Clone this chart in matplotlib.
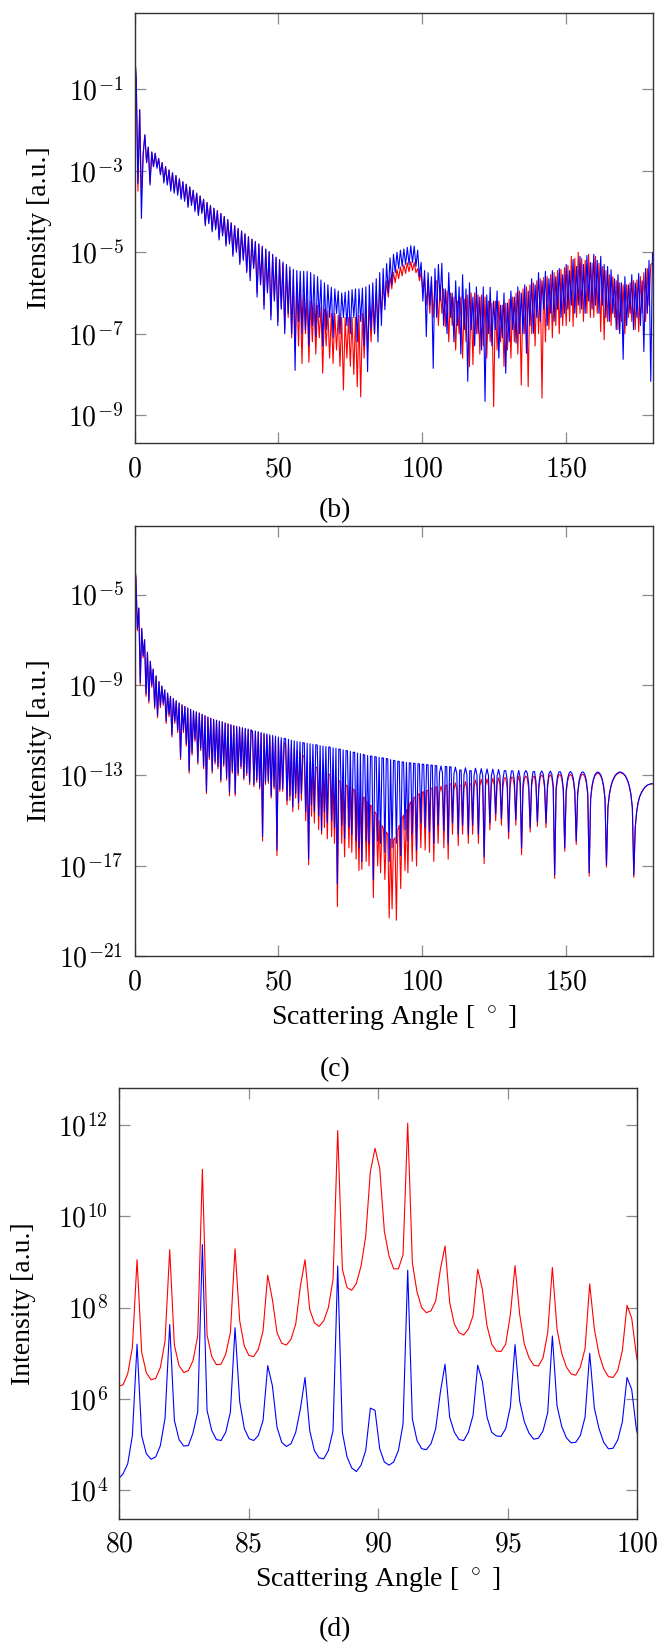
import numpy as np
import matplotlib
matplotlib.use("Agg")
import matplotlib.pyplot as plt
from matplotlib.ticker import NullLocator

plt.rcParams["mathtext.fontset"] = "cm"
plt.rcParams["path.simplify"] = False

SERIF = "Liberation Serif"
FS = 20

# all intensities are given as log10 values

# (b) sampled every 0.6 deg from 0 to 180
b_step = 0.6
b_blue = [
    0.0, -0.75, -3.31, -1.5, -4.17, -2.6, -2.12, -2.8, -2.42, -3.35, -2.54, -2.9, -2.57, -2.94, -2.7, -3.1, -2.8, -3.3, -2.9, -3.35, -2.98, -3.5, -3.05, -3.55, -3.12,
    -3.6, -3.2, -3.7, -3.27, -3.75, -3.33, -3.9, -3.4, -3.85, -3.48, -4.0, -3.55, -4.1, -3.62, -4.05, -3.7, -4.35, -3.78, -4.3, -3.85, -4.5, -3.92, -4.45, -3.98, -4.7,
    -4.05, -4.6, -4.12, -4.85, -4.2, -4.8, -4.28, -5.1, -4.35, -5.0, -4.42, -5.3, -4.48, -5.2, -4.55, -5.5, -4.62, -5.7, -4.68, -5.4, -4.74, -6.1, -4.8, -5.8, -4.85,
    -6.4, -4.92, -6.0, -4.98, -6.66, -5.05, -6.2, -5.12, -6.8, -5.18, -6.4, -5.24, -7.0, -5.3, -6.5, -5.36, -7.0, -5.42, -7.9, -5.45, -6.7, -5.47, -7.0, -5.47, -6.9,
    -5.47, -7.3, -5.5, -6.8, -5.55, -7.07, -5.6, -6.6, -5.68, -7.3, -5.75, -6.9, -5.8, -6.6, -5.86, -7.1, -5.9, -6.5, -5.95, -7.0, -6.0, -6.6, -5.98, -6.8, -5.95,
    -7.0, -5.92, -6.6, -5.9, -7.2, -5.9, -6.7, -5.88, -7.3, -5.85, -7.93, -5.8, -6.9, -5.75, -7.0, -5.65, -7.2, -5.5, -6.8, -5.4, -6.41, -5.28, -6.0, -5.14, -5.8,
    -5.05, -5.5, -5.0, -5.4, -4.95, -5.35, -4.92, -5.3, -4.88, -5.3, -4.84, -5.25, -4.85, -5.35, -4.95, -5.6, -5.25, -6.2, -5.45, -7.07, -5.5, -6.3, -5.6, -7.85, -5.4,
    -6.6, -5.3, -6.2, -5.27, -6.8, -5.9, -7.0, -5.5, -6.6, -6.0, -7.2, -5.7, -6.8, -5.85, -7.5, -5.55, -6.9, -5.9, -8.17, -5.75, -6.9, -6.1, -7.3, -5.85, -7.0,
    -6.1, -7.4, -5.85, -8.66, -6.05, -7.0, -5.86, -7.3, -6.2, -6.9, -5.95, -7.6, -6.3, -7.1, -6.0, -7.97, -6.25, -7.2, -5.95, -6.9, -6.1, -7.23, -5.85, -7.0, -6.0,
    -7.0, -5.8, -7.48, -5.95, -6.8, -5.65, -6.99, -5.8, -6.6, -5.5, -6.7, -5.7, -6.4, -5.47, -6.8, -5.65, -6.5, -5.45, -6.7, -5.6, -6.4, -5.4, -6.6, -5.55, -6.5,
    -5.3, -6.4, -5.45, -6.3, -5.18, -6.5, -5.35, -6.3, -5.1, -6.4, -5.3, -6.5, -5.08, -6.2, -5.25, -6.4, -5.05, -6.3, -5.2, -6.5, -5.1, -6.3, -5.3, -6.6, -5.35,
    -6.7, -5.43, -6.5, -5.65, -6.9, -5.55, -7.0, -5.75, -7.63, -5.6, -6.8, -5.8, -6.5, -5.55, -6.9, -5.75, -6.6, -5.52, -6.8, -5.7, -7.44, -5.4, -6.5, -5.2, -8.17,
    -5.02,
]
b_red = [
    0.0, -0.75, -3.5, -1.5, -3.6, -2.6, -2.12, -2.8, -2.42, -3.3, -2.54, -2.9, -2.57, -2.9, -2.7, -3.05, -2.8, -3.25, -2.9, -3.3, -2.98, -3.45, -3.05, -3.5, -3.12,
    -3.55, -3.2, -3.65, -3.27, -3.7, -3.33, -3.85, -3.4, -3.8, -3.48, -3.95, -3.55, -4.05, -3.62, -4.0, -3.7, -4.3, -3.78, -4.25, -3.85, -4.45, -3.92, -4.4, -3.98, -4.65,
    -4.05, -4.55, -4.12, -4.8, -4.2, -4.75, -4.28, -5.05, -4.35, -4.95, -4.42, -5.25, -4.48, -5.15, -4.55, -5.45, -4.62, -5.6, -4.68, -5.35, -4.74, -6.0, -4.8, -5.75, -4.87,
    -6.3, -4.93, -5.95, -5.0, -6.55, -5.07, -6.15, -5.14, -6.7, -5.2, -6.35, -5.28, -6.9, -5.36, -6.6, -5.45, -7.1, -5.6, -7.4, -5.75, -7.3, -5.9, -7.73, -6.05, -7.0,
    -6.15, -7.7, -6.2, -7.2, -6.25, -7.5, -6.3, -7.1, -6.35, -7.97, -6.4, -7.3, -6.45, -7.6, -6.5, -7.73, -6.5, -7.4, -6.55, -7.8, -6.6, -8.38, -6.6, -7.6, -6.6,
    -7.8, -6.6, -8.0, -6.6, -8.3, -6.55, -8.55, -6.5, -7.6, -6.4, -7.4, -6.3, -7.2, -6.15, -7.0, -6.0, -6.8, -5.9, -6.5, -5.8, -6.3, -5.7, -6.1, -5.6, -5.9,
    -5.5, -5.75, -5.42, -5.65, -5.36, -5.58, -5.31, -5.52, -5.26, -5.48, -5.23, -5.45, -5.25, -5.5, -5.4, -5.7, -5.5, -5.95, -5.6, -6.3, -5.7, -6.5, -5.7, -6.6, -5.75,
    -5.7, -6.8, -5.8, -6.5, -5.9, -6.83, -5.95, -7.2, -6.0, -6.8, -6.1, -7.4, -6.2, -7.0, -6.1, -7.6, -6.15, -7.2, -6.05, -7.81, -6.0, -7.76, -6.0, -7.0, -6.05,
    -7.5, -6.05, -7.3, -6.1, -7.6, -6.2, -7.2, -6.25, -8.79, -6.2, -7.4, -6.2, -7.2, -6.3, -7.8, -6.25, -7.4, -6.15, -7.6, -6.1, -7.2, -6.0, -7.5, -5.95, -8.26,
    -5.9, -7.0, -5.85, -8.3, -5.8, -7.0, -5.75, -7.3, -5.7, -7.0, -5.65, -8.58, -5.62, -7.2, -5.6, -6.9, -5.55, -7.1, -5.5, -6.8, -5.45, -7.0, -5.42, -6.8, -5.38,
    -6.8, -5.32, -6.7, -5.1, -6.82, -5.15, -6.6, -5.0, -6.5, -5.15, -6.7, -5.2, -6.5, -5.05, -6.6, -5.27, -6.6, -5.1, -6.5, -5.27, -6.95, -5.35, -7.15, -5.45, -6.7,
    -5.55, -6.8, -5.6, -6.6, -5.7, -6.9, -5.75, -6.7, -5.8, -7.0, -5.8, -6.6, -5.75, -6.7, -5.7, -6.9, -5.68, -6.95, -5.6, -6.5, -5.5, -6.7, -5.4, -6.3, -5.3,
    -5.27,
]

# (c) sampled every 0.5 deg from 0 to 180
c_step = 0.5
c_blue = [
    -3.54, -4.3, -6.5, -5.6, -8.9, -6.5, -7.7, -7.0, -9.4, -7.55, -9.7, -7.95, -9.0, -8.3, -9.95, -8.6, -10.35, -8.85, -9.9, -9.05,
    -9.8, -9.22, -10.6, -9.36, -10.3, -9.5, -11.2, -9.6, -10.6, -9.7, -11.0, -9.8, -12.2, -9.88, -11.0, -9.95, -11.6, -10.02, -12.8, -10.08,
    -12.0, -10.14, -11.4, -10.19, -12.4, -10.24, -11.8, -10.3, -12.6, -10.36, -13.7, -10.42, -12.2, -10.47, -12.8, -10.52, -12.4, -10.56, -12.6, -10.6,
    -13.2, -10.63, -12.5, -10.68, -13.1, -10.72, -13.74, -10.76, -12.8, -10.8, -13.8, -10.83, -12.9, -10.86, -12.6, -10.89, -13.1, -10.92, -12.9, -10.95,
    -13.3, -10.98, -11.05, -13.4, -11.03, -13.2, -11.06, -13.5, -11.1, -15.7, -11.13, -13.3, -11.16, -13.24, -11.2, -13.9, -11.23, -13.5, -11.26, -16.3,
    -11.3, -13.6, -11.33, -13.6, -11.36, -11.38, -14.1, -11.4, -13.9, -11.44, -14.4, -11.47, -13.8, -11.5, -14.2, -11.52, -13.8, -11.55, -11.56, -14.6,
    -11.58, -16.7, -11.6, -14.3, -11.62, -14.6, -11.64, -11.66, -14.8, -11.68, -15.45, -11.7, -14.6, -11.72, -15.1, -11.74, -11.75, -15.0, -11.78, -15.3,
    -11.8, -17.8, -11.83, -11.84, -15.2, -11.87, -15.8, -11.9, -11.91, -15.3, -11.94, -15.6, -11.97, -11.98, -15.9, -12.01, -16.2, -12.04, -16.8, -12.07,
    -12.1, -15.9, -12.12, -16.0, -12.14, -12.15, -17.6, -12.17, -12.18, -15.9, -12.2, -16.0, -12.22, -12.23, -16.4, -12.25, -12.27, -16.8, -12.3, -16.2,
    -12.33, -12.35, -16.0, -12.37, -12.38, -16.55, -12.4, -12.41, -15.4, -12.42, -15.9, -12.44, -12.45, -15.6, -12.46, -12.47, -16.3, -12.48, -12.49, -15.1,
    -12.5, -12.51, -15.3, -12.52, -12.53, -15.5, -12.54, -12.55, -16.0, -12.56, -12.57, -15.2, -12.88, -12.58, -12.88, -15.45, -12.6, -12.61, -16.0, -12.62,
    -12.62, -15.1, -12.93, -12.63, -12.93, -15.6, -12.76, -12.76, -15.2, -12.96, -12.66, -12.96, -15.6, -12.79, -12.79, -15.2, -12.98, -12.68, -12.98, -15.6,
    -13.0, -12.7, -13.0, -16.6, -13.01, -12.71, -13.01, -15.1, -13.02, -12.72, -13.02, -14.7, -13.03, -12.73, -13.03, -14.9, -13.2, -12.79, -12.79, -13.2,
    -15.5, -13.22, -12.8, -12.8, -13.22, -14.95, -13.08, -12.78, -13.08, -16.2, -13.4, -12.9, -12.78, -12.9, -13.4, -15.3, -13.25, -12.83, -12.83, -13.25,
    -15.05, -13.4, -12.92, -12.8, -12.92, -13.4, -15.1, -13.42, -12.93, -12.81, -12.93, -13.42, -17.4, -13.55, -13.03, -12.84, -12.84, -13.03, -13.55, -16.2,
    -13.67, -13.13, -12.9, -12.83, -12.9, -13.13, -13.67, -15.9, -13.77, -13.22, -12.96, -12.85, -12.85, -12.96, -13.22, -13.77, -17.3, -14.0, -13.45, -13.15,
    -12.97, -12.88, -12.85, -12.88, -12.97, -13.15, -13.45, -14.0, -16.95, -14.42, -13.83, -13.5, -13.27, -13.12, -13.0, -12.93, -12.88, -12.85, -12.85, -12.88,
    -12.93, -13.0, -13.12, -13.27, -13.5, -13.83, -14.42, -17.4, -15.3, -14.6, -14.2, -13.95, -13.8, -13.68, -13.58, -13.5, -13.45, -13.41, -13.39, -13.37,
    -13.37,
]
c_red = [
    -3.54, -4.3, -6.6, -5.6, -9.0, -6.5, -7.8, -7.0, -9.5, -7.55, -9.8, -7.95, -9.1, -8.3, -10.05, -8.6, -10.45, -8.85, -10.0, -9.05,
    -9.9, -9.22, -10.7, -9.36, -10.4, -9.5, -11.3, -9.6, -10.7, -9.7, -11.1, -9.8, -12.3, -9.88, -11.1, -9.95, -11.7, -10.02, -12.9, -10.08,
    -12.1, -10.14, -11.5, -10.19, -12.5, -10.24, -11.9, -10.3, -12.7, -10.36, -13.8, -10.42, -12.3, -10.47, -12.9, -10.52, -12.5, -10.56, -12.7, -10.6,
    -13.3, -10.63, -12.6, -10.68, -13.2, -10.72, -13.9, -10.76, -12.9, -10.8, -13.9, -10.83, -13.0, -10.86, -12.7, -10.9, -13.2, -10.93, -13.0, -10.96,
    -13.4, -11.0, -11.07, -13.5, -11.06, -13.3, -11.1, -13.6, -11.15, -15.9, -11.19, -13.4, -11.23, -13.35, -11.28, -14.0, -11.32, -13.6, -11.36, -16.55,
    -11.4, -13.7, -11.47, -13.7, -11.55, -11.6, -14.3, -11.68, -14.1, -11.75, -14.6, -11.82, -14.0, -11.9, -14.5, -12.0, -14.1, -12.1, -12.2, -15.0,
    -12.4, -16.95, -12.48, -14.8, -12.55, -15.1, -12.62, -12.68, -15.4, -12.74, -15.6, -12.8, -15.3, -12.87, -15.8, -12.93, -12.98, -15.7, -13.05, -16.0,
    -13.15, -18.8, -13.22, -13.27, -16.0, -13.35, -16.6, -13.42, -13.47, -16.2, -13.5, -16.4, -13.6, -13.65, -16.7, -13.75, -17.2, -13.82, -17.15, -13.95,
    -14.0, -16.8, -14.15, -17.0, -14.3, -14.4, -18.4, -14.6, -14.7, -17.0, -15.0, -17.3, -15.2, -15.35, -17.6, -15.5, -15.6, -19.3, -15.8, -18.9,
    -15.85, -15.75, -19.4, -15.4, -15.2, -18.0, -14.9, -14.75, -17.2, -14.5, -17.3, -14.3, -14.15, -16.8, -14.0, -13.95, -17.0, -13.85, -13.8, -16.2,
    -13.75, -13.72, -16.3, -13.68, -13.65, -16.4, -13.57, -13.55, -16.8, -13.52, -13.5, -16.0, -13.78, -13.47, -13.76, -16.2, -13.44, -13.42, -16.7, -13.38,
    -13.36, -15.6, -13.63, -13.33, -13.62, -16.1, -13.43, -13.43, -15.6, -13.57, -13.27, -13.57, -16.0, -13.37, -13.37, -15.6, -13.5, -13.2, -13.5, -16.0,
    -13.47, -13.17, -13.47, -16.9, -13.45, -13.15, -13.45, -15.4, -13.43, -13.12, -13.42, -15.0, -13.4, -13.1, -13.4, -15.2, -13.53, -13.11, -13.11, -13.53,
    -15.8, -13.5, -13.08, -13.08, -13.5, -15.2, -13.33, -13.03, -13.33, -16.5, -13.62, -13.14, -13.02, -13.14, -13.62, -15.5, -13.46, -13.04, -13.04, -13.46,
    -15.25, -13.57, -13.09, -12.97, -13.09, -13.57, -15.3, -13.57, -13.08, -12.96, -13.08, -13.57, -17.55, -13.68, -13.16, -12.97, -12.97, -13.16, -13.68, -16.35,
    -13.79, -13.25, -13.02, -12.95, -13.02, -13.25, -13.79, -16.05, -13.87, -13.32, -13.06, -12.95, -12.95, -13.06, -13.32, -13.87, -17.45, -14.07, -13.5, -13.2,
    -13.02, -12.93, -12.9, -12.93, -13.02, -13.2, -13.5, -14.07, -17.05, -14.45, -13.86, -13.53, -13.3, -13.15, -13.03, -12.96, -12.91, -12.88, -12.88, -12.91,
    -12.95, -13.02, -13.14, -13.29, -13.52, -13.85, -14.44, -17.5, -15.3, -14.6, -14.2, -13.95, -13.8, -13.68, -13.58, -13.5, -13.45, -13.41, -13.39, -13.37,
    -13.37,
]

# (d) sampled every 0.18 deg starting at 79.98 deg
d_start = 79.98
d_step = 0.18
d_red = [
    6.28, 6.31, 6.55, 7.13, 9.05, 7.02, 6.57, 6.42, 6.45, 6.69,
    7.27, 9.27, 7.18, 6.73, 6.58, 6.62, 6.84, 7.38, 11.03, 7.4,
    6.93, 6.75, 6.76, 6.98, 7.45, 9.29, 7.71, 7.15, 6.95, 6.93,
    7.09, 7.49, 8.71, 8.18, 7.45, 7.22, 7.18, 7.31, 7.64, 8.47,
    9.05, 7.96, 7.67, 7.59, 7.71, 8.0, 8.62, 11.88, 8.84, 8.44,
    8.38, 8.53, 8.91, 9.56, 10.98, 11.49, 11.05, 9.67, 9.13, 8.85,
    8.85, 9.16, 12.04, 8.98, 8.34, 8.0, 7.89, 7.93, 8.15, 8.84,
    9.35, 8.11, 7.64, 7.45, 7.4, 7.53, 7.82, 8.84, 8.4, 7.6,
    7.2, 7.05, 7.04, 7.2, 7.85, 8.92, 7.85, 7.2, 6.9, 6.74,
    6.72, 6.9, 7.45, 8.88, 7.53, 7.0, 6.7, 6.55, 6.52, 6.7,
    7.1, 8.52, 7.53, 6.98, 6.66, 6.49, 6.47, 6.62, 7.06, 8.05,
    7.77, 6.96, 6.4,
]
d_blue = [
    4.25, 4.36, 4.58, 5.2, 7.2, 5.19, 4.8, 4.68, 4.73, 4.98,
    5.58, 7.63, 5.53, 5.11, 4.97, 4.98, 5.26, 5.72, 9.38, 5.75,
    5.31, 5.11, 5.09, 5.27, 5.71, 7.56, 5.94, 5.35, 5.13, 5.09,
    5.2, 5.53, 6.73, 6.29, 5.38, 5.05, 4.96, 5.02, 5.27, 5.78,
    6.47, 5.31, 4.87, 4.71, 4.69, 4.87, 5.31, 8.91, 5.27, 4.73,
    4.49, 4.41, 4.55, 4.87, 5.8, 5.75, 4.91, 4.62, 4.55, 4.62,
    4.87, 5.45, 8.82, 5.56, 5.09, 4.91, 4.89, 5.02, 5.35, 6.15,
    6.76, 5.6, 5.27, 5.11, 5.09, 5.27, 5.64, 6.74, 6.38, 5.6,
    5.27, 5.19, 5.18, 5.35, 5.83, 7.19, 5.95, 5.5, 5.25, 5.12,
    5.14, 5.3, 5.7, 7.38, 5.85, 5.4, 5.15, 5.04, 5.05, 5.2,
    5.6, 7.0, 5.8, 5.35, 5.05, 4.91, 4.92, 5.1, 5.5, 6.47,
    6.21, 5.34, 4.9,
]

b_yticks = [-1, -3, -5, -7, -9]
c_yticks = [-5, -9, -13, -17, -21]
d_yticks = [4, 6, 8, 10, 12]

W, H = 659, 1646


def px_rect(left, top, right, bottom):
    return [left / W, 1 - bottom / H, (right - left) / W, (bottom - top) / H]


def style_axis(ax, xticks, yexps, xlim, ylim_exp):
    ax.set_yscale("log")
    ax.set_xlim(*xlim)
    ax.set_ylim(10.0 ** ylim_exp[0], 10.0 ** ylim_exp[1])
    ax.set_xticks(xticks)
    ax.set_xticklabels([rf"${t}$" for t in xticks])
    ax.set_yticks([10.0 ** e for e in yexps])
    ax.set_yticklabels([rf"$10^{{{e}}}$" for e in yexps])
    ax.yaxis.set_minor_locator(NullLocator())
    ax.tick_params(direction="in", length=8, width=0.9, color="0.55",
                   top=True, right=True, labelsize=FS, pad=8)
    for sp in ax.spines.values():
        sp.set_color("0.2")
        sp.set_linewidth(1.0)


def draw(ax, x, red, blue):
    ax.plot(x, 10.0 ** np.array(red), color="red", lw=0.8)
    ax.plot(x, 10.0 ** np.array(blue), color="blue", lw=0.8)


fig = plt.figure(figsize=(W / 100, H / 100), dpi=100)

ax_b = fig.add_axes(px_rect(134.5, 12.7, 652.5, 443.3))
b_x = np.arange(len(b_blue)) * b_step
draw(ax_b, b_x, b_red, b_blue)
style_axis(ax_b, [0, 50, 100, 150], b_yticks, (0, 180), (-9.69, 0.88))

ax_c = fig.add_axes(px_rect(134.5, 526, 652.5, 956.4))
c_x = np.arange(len(c_blue)) * c_step
draw(ax_c, c_x, c_red, c_blue)
style_axis(ax_c, [0, 50, 100, 150], c_yticks, (0, 180), (-21, -1.97))

ax_d = fig.add_axes(px_rect(118.9, 1088, 637.4, 1518.6))
d_x = d_start + np.arange(len(d_blue)) * d_step
draw(ax_d, d_x, d_red, d_blue)
style_axis(ax_d, [80, 85, 90, 95, 100], d_yticks, (80, 100), (3.38, 12.81))


def ftext(x, y, s, **kw):
    fig.text(x / W, 1 - y / H, s, ha="center", va="center", fontsize=FS,
             family=SERIF, **kw)


ftext(40, 228, "Intensity [a.u.]", rotation=90)
ftext(40, 741, "Intensity [a.u.]", rotation=90)
ftext(24, 1304, "Intensity [a.u.]", rotation=90)
ftext(393.5, 1018, r"Scattering Angle [ $^\circ$ ]")
ftext(378, 1580, r"Scattering Angle [ $^\circ$ ]")
ftext(335, 511, "(b)")
ftext(335, 1070, "(c)")
ftext(335, 1630, "(d)")

fig.savefig("out.png", dpi=100)
